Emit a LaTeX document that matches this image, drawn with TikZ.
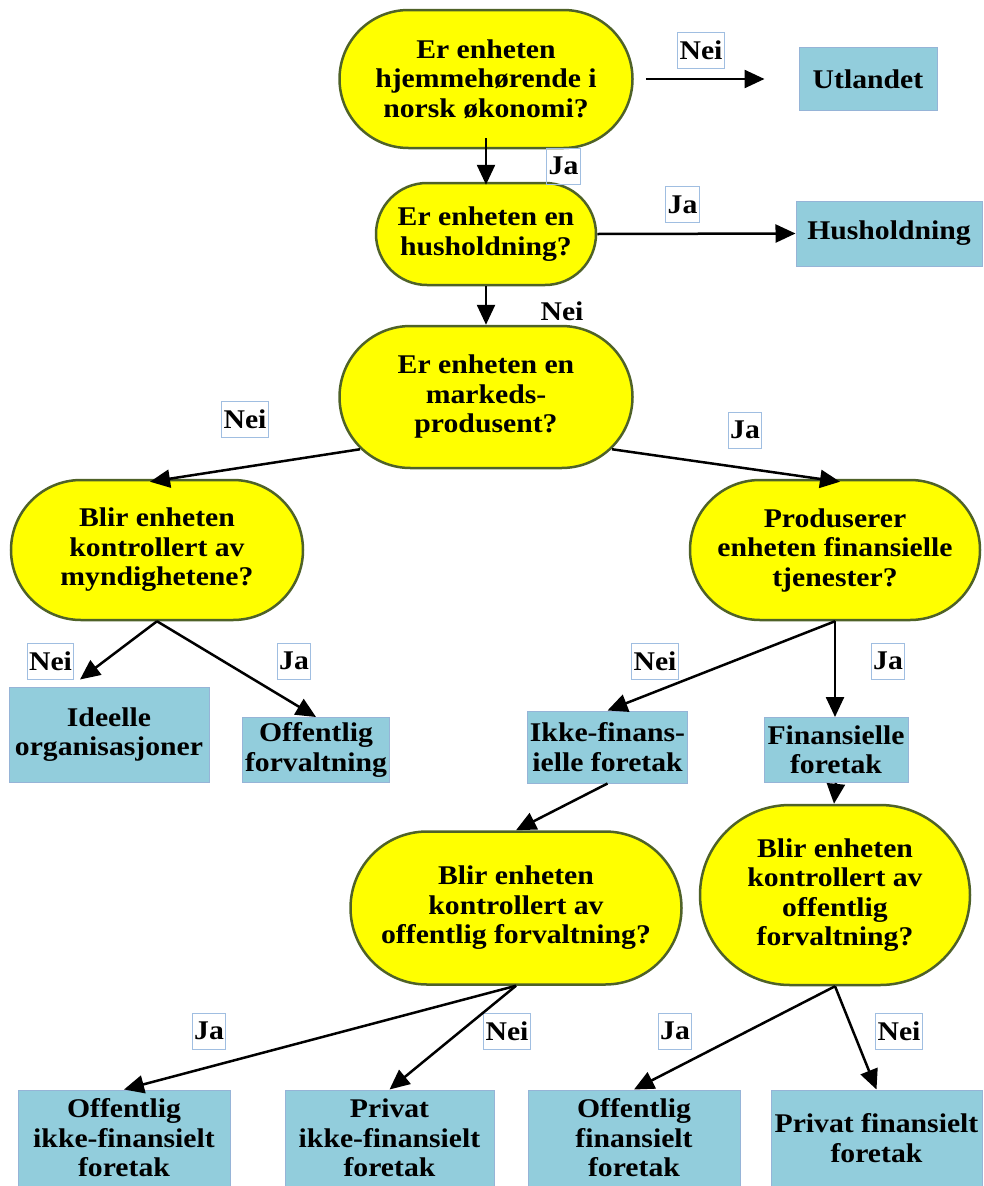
\documentclass[tikz,border=0pt]{standalone}
\usepackage{fontspec}
\setmainfont{Liberation Serif}[FakeStretch=1.1]
\usetikzlibrary{shapes.misc, arrows.meta}
\definecolor{qfill}{RGB}{255,255,0}
\definecolor{qline}{RGB}{79,98,40}
\definecolor{boxfill}{RGB}{146,205,220}
\definecolor{boxline}{RGB}{150,180,215}
\definecolor{tagline}{RGB}{160,190,225}
\tikzstyle{question} = [
	rounded rectangle,
	draw=qline,
	line width=2.5pt,
	fill=qfill,
	align=center,
	inner sep=0pt
]
\tikzstyle{outcome} = [
	rectangle,
	draw=boxline,
	line width=1pt,
	fill=boxfill,
	align=center,
	inner sep=0pt
]
\tikzstyle{answer} = [
	draw=tagline,
	line width=1pt,
	inner xsep=2pt,
	inner ysep=0pt,
	minimum height=36pt
]
\tikzstyle{link} = [line width=2.5pt, -{Triangle[length=20pt,width=18pt]}]

\begin{document}
\begin{tikzpicture}[x=1pt, y=-1pt, font=\bfseries\fontsize{27}{29.5}\selectfont]
    \useasboundingbox (0, 0) rectangle (983, 1186);
    % questions
    \node[question, minimum width=293pt, minimum height=138pt] at (486, 79) (q1) {Er enheten\\hjemmehørende i\\norsk økonomi?};
    \node[question, minimum width=220pt, minimum height=102pt] at (486, 234) (q2) {Er enheten en\\husholdning?};
    \node[question, minimum width=293pt, minimum height=142pt] at (486, 397) (q3) {Er enheten en\\markeds-\\produsent?};
    \node[question, minimum width=292pt, minimum height=140pt] at (157, 550) (q4) {Blir enheten\\kontrollert av\\myndighetene?};
    \node[question, minimum width=290pt, minimum height=140pt] at (835, 550) (q5) {Produserer\\enheten finansielle\\tjenester?};
    \node[question, minimum width=331pt, minimum height=153pt] at (516, 908) (q6) {Blir enheten\\kontrollert av\\offentlig forvaltning?};
    \node[question, minimum width=270pt, minimum height=180pt] at (835, 895) (q7) {Blir enheten\\kontrollert av\\offentlig\\forvaltning?};
    % outcomes
    \node[outcome, minimum width=138pt, minimum height=63pt] at (868, 79) (utl) {Utlandet};
    \node[outcome, minimum width=186pt, minimum height=65pt] at (889, 233.5) (hus) {Husholdning};
    \node[outcome, minimum width=200pt, minimum height=95pt] at (109, 734.5) (ide) {Ideelle\\organisasjoner};
    \node[outcome, minimum width=147pt, minimum height=65pt] at (316, 750) (offf) {Offentlig\\forvaltning};
    \node[outcome, minimum width=160pt, minimum height=72pt] at (607.5, 747) (ikke) {Ikke-finans-\\ielle foretak};
    \node[outcome, minimum width=144pt, minimum height=65pt] at (836, 750) (fin) {Finansielle\\foretak};
    \node[outcome, minimum width=212pt, minimum height=96pt] at (124, 1138) (b1) {Offentlig\\ikke-finansielt\\foretak};
    \node[outcome, minimum width=209pt, minimum height=96pt] at (389.5, 1138) (b2) {Privat\\ikke-finansielt\\foretak};
    \node[outcome, minimum width=212pt, minimum height=96pt] at (634, 1138) (b3) {Offentlig\\finansielt\\foretak};
    \node[outcome, minimum width=211pt, minimum height=96pt] at (876.5, 1138) (b4) {Privat finansielt\\foretak};
    % answers
    \node[answer] at (701, 50) (a1) {Nei};
    \node[answer] at (563.5, 166) (a2) {Ja};
    \node[answer] at (682.5, 204.5) (a3) {Ja};
    \node[answer, draw=none] at (562, 311) (a4) {Nei};
    \node[answer] at (245, 419) (a5) {Nei};
    \node[answer] at (745, 430) (a6) {Ja};
    \node[answer] at (50.5, 661) (a7) {Nei};
    \node[answer] at (294, 661) (a8) {Ja};
    \node[answer] at (655, 661) (a9) {Nei};
    \node[answer] at (888, 661) (a10) {Ja};
    \node[answer] at (209, 1031) (a11) {Ja};
    \node[answer] at (507, 1031) (a12) {Nei};
    \node[answer] at (675, 1031) (a13) {Ja};
    \node[answer] at (899, 1031) (a14) {Nei};
    % connectors
    \draw[link, shorten <=12pt, shorten >=34pt] (q1.east) -- (utl.west);
    \draw[link] ([yshift=11pt]q1.south) -- ([yshift=-3pt]q2.north);
    \draw[link] (q2.east) -- (hus.west);
    \draw[link] (q2.south) -- (q3.north);
    \draw[link] ([xshift=-126pt, yshift=20pt]q3.south) -- ([xshift=-7pt, yshift=-3pt]q4.north);
    \draw[link] ([xshift=126pt, yshift=20pt]q3.south) -- ([xshift=5pt, yshift=-3pt]q5.north);
    \draw[link] (q4.south) -- ([xshift=-29pt, yshift=7pt]ide.north);
    \draw[link] (q4.south) -- (offf.north);
    \draw[link] (q5.south) -- (ikke.north);
    \draw[link] (q5.south) -- ([xshift=-1pt]fin.north);
    \draw[link] (ikke.south) -- (q6.north);
    \draw[link] (fin.south) -- ([xshift=-1pt]q7.north);
    \draw[link] (q6.south) -- (b1.north);
    \draw[link] (q6.south) -- (b2.north);
    \draw[link] (q7.south) -- (b3.north);
    \draw[link] (q7.south) -- (b4.north);
\end{tikzpicture}
\end{document}
